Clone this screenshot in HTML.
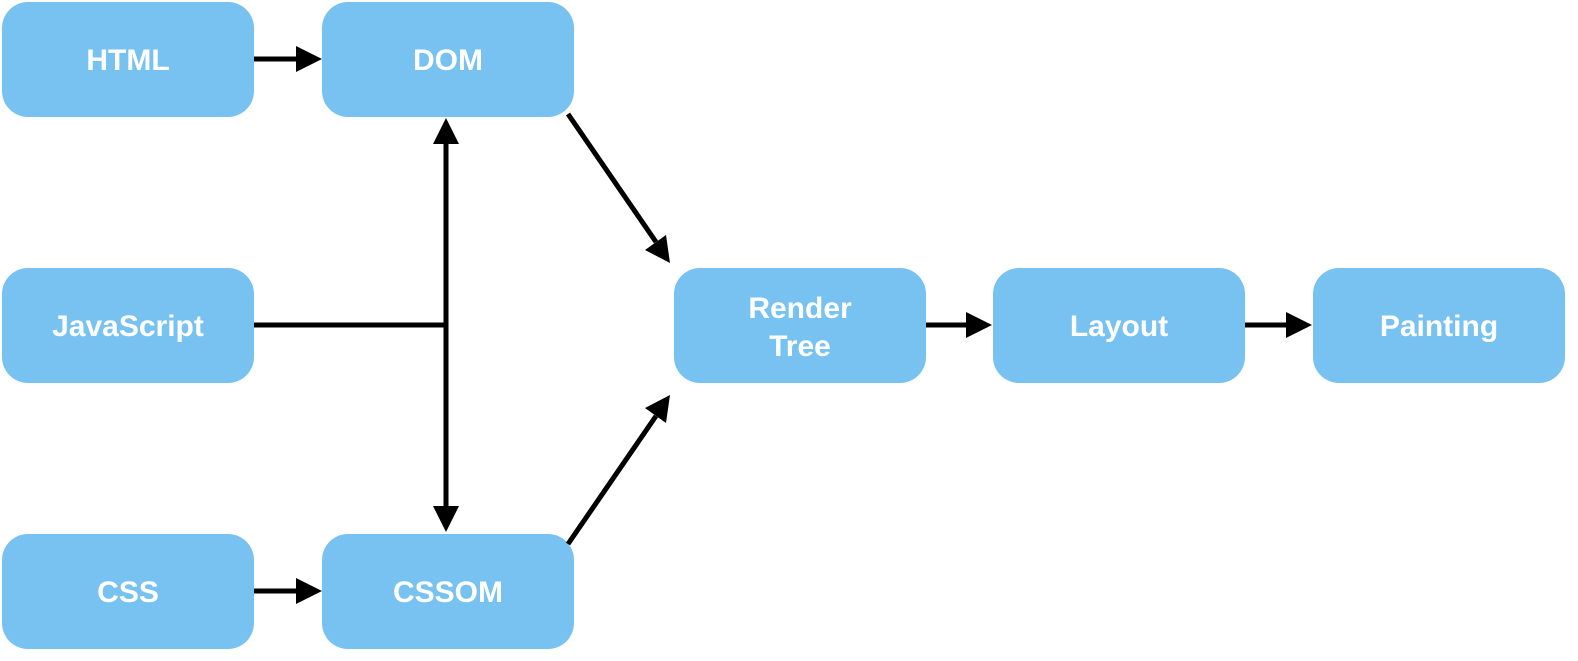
<!DOCTYPE html>
<html><head><style>
body{margin:0;background:#fff;width:1578px;height:656px;overflow:hidden}
text{font-family:"Liberation Sans",sans-serif;font-weight:bold;font-size:30px;fill:#fff}
</style></head><body>
<svg width="1578" height="656" viewBox="0 0 1578 656">
<g fill="#77C2F0">
<rect x="2" y="2" width="252" height="115" rx="26"/>
<rect x="322" y="2" width="252" height="115" rx="26"/>
<rect x="2" y="268" width="252" height="115" rx="26"/>
<rect x="2" y="534" width="252" height="115" rx="26"/>
<rect x="322" y="534" width="252" height="115" rx="26"/>
<rect x="674" y="268" width="252" height="115" rx="26"/>
<rect x="993" y="268" width="252" height="115" rx="26"/>
<rect x="1313" y="268" width="252" height="115" rx="26"/>
</g>
<g text-anchor="middle">
<text x="128" y="70">HTML</text>
<text x="448" y="70">DOM</text>
<text x="128" y="336">JavaScript</text>
<text x="128" y="602">CSS</text>
<text x="448" y="602">CSSOM</text>
<text x="800" y="318" font-size="29">Render</text>
<text x="800" y="356" font-size="29">Tree</text>
<text x="1119" y="336">Layout</text>
<text x="1439" y="336">Painting</text>
</g>
<g stroke="#000" stroke-width="5" fill="none">
<line x1="254" y1="59" x2="300" y2="59"/>
<line x1="254" y1="591" x2="300" y2="591"/>
<line x1="926" y1="325" x2="970" y2="325"/>
<line x1="1245" y1="325" x2="1290" y2="325"/>
<line x1="254" y1="325" x2="446" y2="325"/>
<line x1="446" y1="140" x2="446" y2="510"/>
<line x1="568" y1="114" x2="656" y2="242"/>
<line x1="568" y1="544" x2="656" y2="416"/>
</g>
<g fill="#000">
<polygon points="296,46 322,59 296,72"/>
<polygon points="296,578 322,591 296,604"/>
<polygon points="966,312 992,325 966,338"/>
<polygon points="1286,312 1312,325 1286,338"/>
<polygon points="433,144 446,118 459,144"/>
<polygon points="433,506 446,532 459,506"/>
<polygon points="645,250 670,263 666,235"/>
<polygon points="645,408 670,395 666,423"/>
</g>
</svg>
</body></html>
